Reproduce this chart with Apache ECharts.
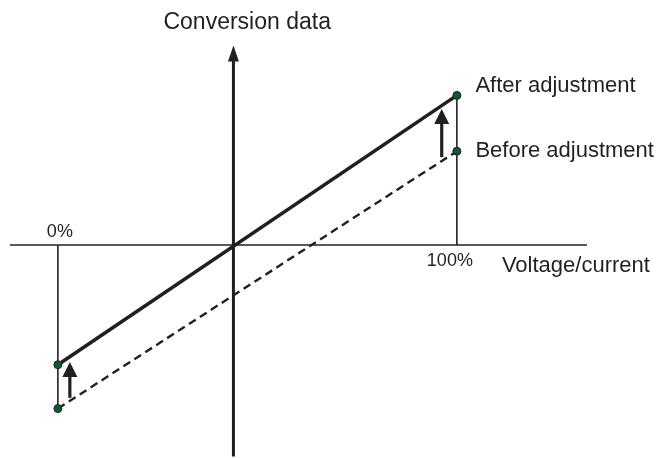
<!DOCTYPE html>
<html>
<head>
<meta charset="utf-8">
<script src="https://cdn.jsdelivr.net/npm/echarts@6/dist/echarts.min.js"></script>
<style>
html,body{margin:0;padding:0;background:#fff;}
#chart{width:661px;height:458px;}
</style>
</head>
<body>
<div id="chart"></div>
<script>
// ---- data ----
const pct = [0, 100];                 // input range (percent)
const afterAdj = [-30, 37.5];         // conversion data after adjustment
const beforeAdj = [-41, 23.5];        // conversion data before adjustment
const tickLabels = ['0%', '100%'];
const seriesNames = ['After adjustment', 'Before adjustment'];
const axisTitles = ['Voltage/current', 'Conversion data'];
const yAxisCross = 44;                // where the vertical axis crosses (percent)
const arrowX = [3, 96.2];             // adjustment arrows: x position
const arrowFrom = [-38.3, 22];        // adjustment arrows: start value
const arrowTo = [-29.3, 34.1];        // adjustment arrows: tip value
const xRange = [-12, 132.6];
const yRange = [-53, 50];

const INK = '#231f20';
const FONT = '"Liberation Sans", Arial, Helvetica, sans-serif';

const chart = echarts.init(document.getElementById('chart'), null, {renderer: 'canvas'});

function triangleUp(tip, w, h) {
  return [[tip[0], tip[1]], [tip[0] - w / 2, tip[1] + h], [tip[0] + w / 2, tip[1] + h]];
}

function renderDecor(params, api) {
  const ch = [];
  // horizontal axis
  const h0 = api.coord([xRange[0], 0]), h1 = api.coord([xRange[1], 0]);
  ch.push({type: 'line', shape: {x1: h0[0], y1: h0[1], x2: h1[0], y2: h1[1]},
    style: {stroke: INK, lineWidth: 1.6}});
  // vertical axis with arrow
  const v0 = api.coord([yAxisCross, yRange[0]]), v1 = api.coord([yAxisCross, yRange[1]]);
  ch.push({type: 'line', shape: {x1: v0[0], y1: v0[1], x2: v1[0], y2: v1[1] + 12},
    style: {stroke: INK, lineWidth: 3}});
  ch.push({type: 'polygon', shape: {points: triangleUp(v1, 11, 16)}, style: {fill: INK}});
  // guide lines at 0% and 100%
  const g0a = api.coord([pct[0], 0]), g0b = api.coord([pct[0], beforeAdj[0]]);
  ch.push({type: 'line', shape: {x1: g0a[0], y1: g0a[1], x2: g0b[0], y2: g0b[1]},
    style: {stroke: INK, lineWidth: 1.6}});
  const g1a = api.coord([pct[1], 0]), g1b = api.coord([pct[1], afterAdj[1]]);
  ch.push({type: 'line', shape: {x1: g1a[0], y1: g1a[1], x2: g1b[0], y2: g1b[1]},
    style: {stroke: INK, lineWidth: 1.6}});
  // adjustment arrows
  for (let i = 0; i < arrowX.length; i++) {
    const a = api.coord([arrowX[i], arrowFrom[i]]), b = api.coord([arrowX[i], arrowTo[i]]);
    ch.push({type: 'line', shape: {x1: a[0], y1: a[1], x2: b[0], y2: b[1] + 12},
      style: {stroke: INK, lineWidth: 3.2}});
    ch.push({type: 'polygon', shape: {points: triangleUp(b, 15, 15)}, style: {fill: INK}});
  }
  // tick labels
  const t0 = api.coord([pct[0], 0]);
  ch.push({type: 'text', x: t0[0] + 2, y: t0[1] - 4,
    style: {text: tickLabels[0], fill: INK, font: '18px ' + FONT, align: 'center', verticalAlign: 'bottom'}});
  const t1 = api.coord([pct[1], 0]);
  ch.push({type: 'text', x: t1[0] - 7, y: t1[1] + 7,
    style: {text: tickLabels[1], fill: INK, font: '18px ' + FONT, align: 'center', verticalAlign: 'top'}});
  // axis titles
  const xt = api.coord([pct[1], 0]);
  ch.push({type: 'text', x: xt[0] + 45, y: xt[1] + 21,
    style: {text: axisTitles[0], fill: INK, font: '22px ' + FONT, align: 'left', verticalAlign: 'middle'}});
  const yt = api.coord([yAxisCross, yRange[1]]);
  ch.push({type: 'text', x: yt[0] - 70, y: yt[1] - 23,
    style: {text: axisTitles[1], fill: INK, font: '23px ' + FONT, align: 'left', verticalAlign: 'middle'}});
  return {type: 'group', children: ch};
}

function endLabel(name, offY) {
  return {
    show: true, position: 'right', distance: 14, offset: [0, offY],
    color: INK, fontSize: 22, fontFamily: FONT,
    formatter: p => (p.dataIndex === pct.length - 1 ? name : '')
  };
}

const pointStyle = {color: '#0d5b2c', borderColor: INK, borderWidth: 1};

chart.setOption({
  animation: false,
  grid: {left: 10, top: 245 - 50 * 3.99, width: (xRange[1] - xRange[0]) * 3.99, height: (yRange[1] - yRange[0]) * 3.99},
  xAxis: {type: 'value', min: xRange[0], max: xRange[1], show: false},
  yAxis: {type: 'value', min: yRange[0], max: yRange[1], show: false},
  series: [
    {type: 'custom', renderItem: renderDecor, data: [[0, 0]], z: 1, clip: false, silent: true},
    {type: 'line', name: seriesNames[1], z: 3,
      data: pct.map((x, i) => [x, beforeAdj[i]]),
      lineStyle: {color: INK, width: 2.4, type: [8, 5]},
      symbol: 'circle', symbolSize: 8, itemStyle: pointStyle,
      label: endLabel(seriesNames[1], 0)},
    {type: 'line', name: seriesNames[0], z: 4,
      data: pct.map((x, i) => [x, afterAdj[i]]),
      lineStyle: {color: INK, width: 3.6},
      symbol: 'circle', symbolSize: 8, itemStyle: pointStyle,
      label: endLabel(seriesNames[0], -9)}
  ]
});
</script>
</body>
</html>
